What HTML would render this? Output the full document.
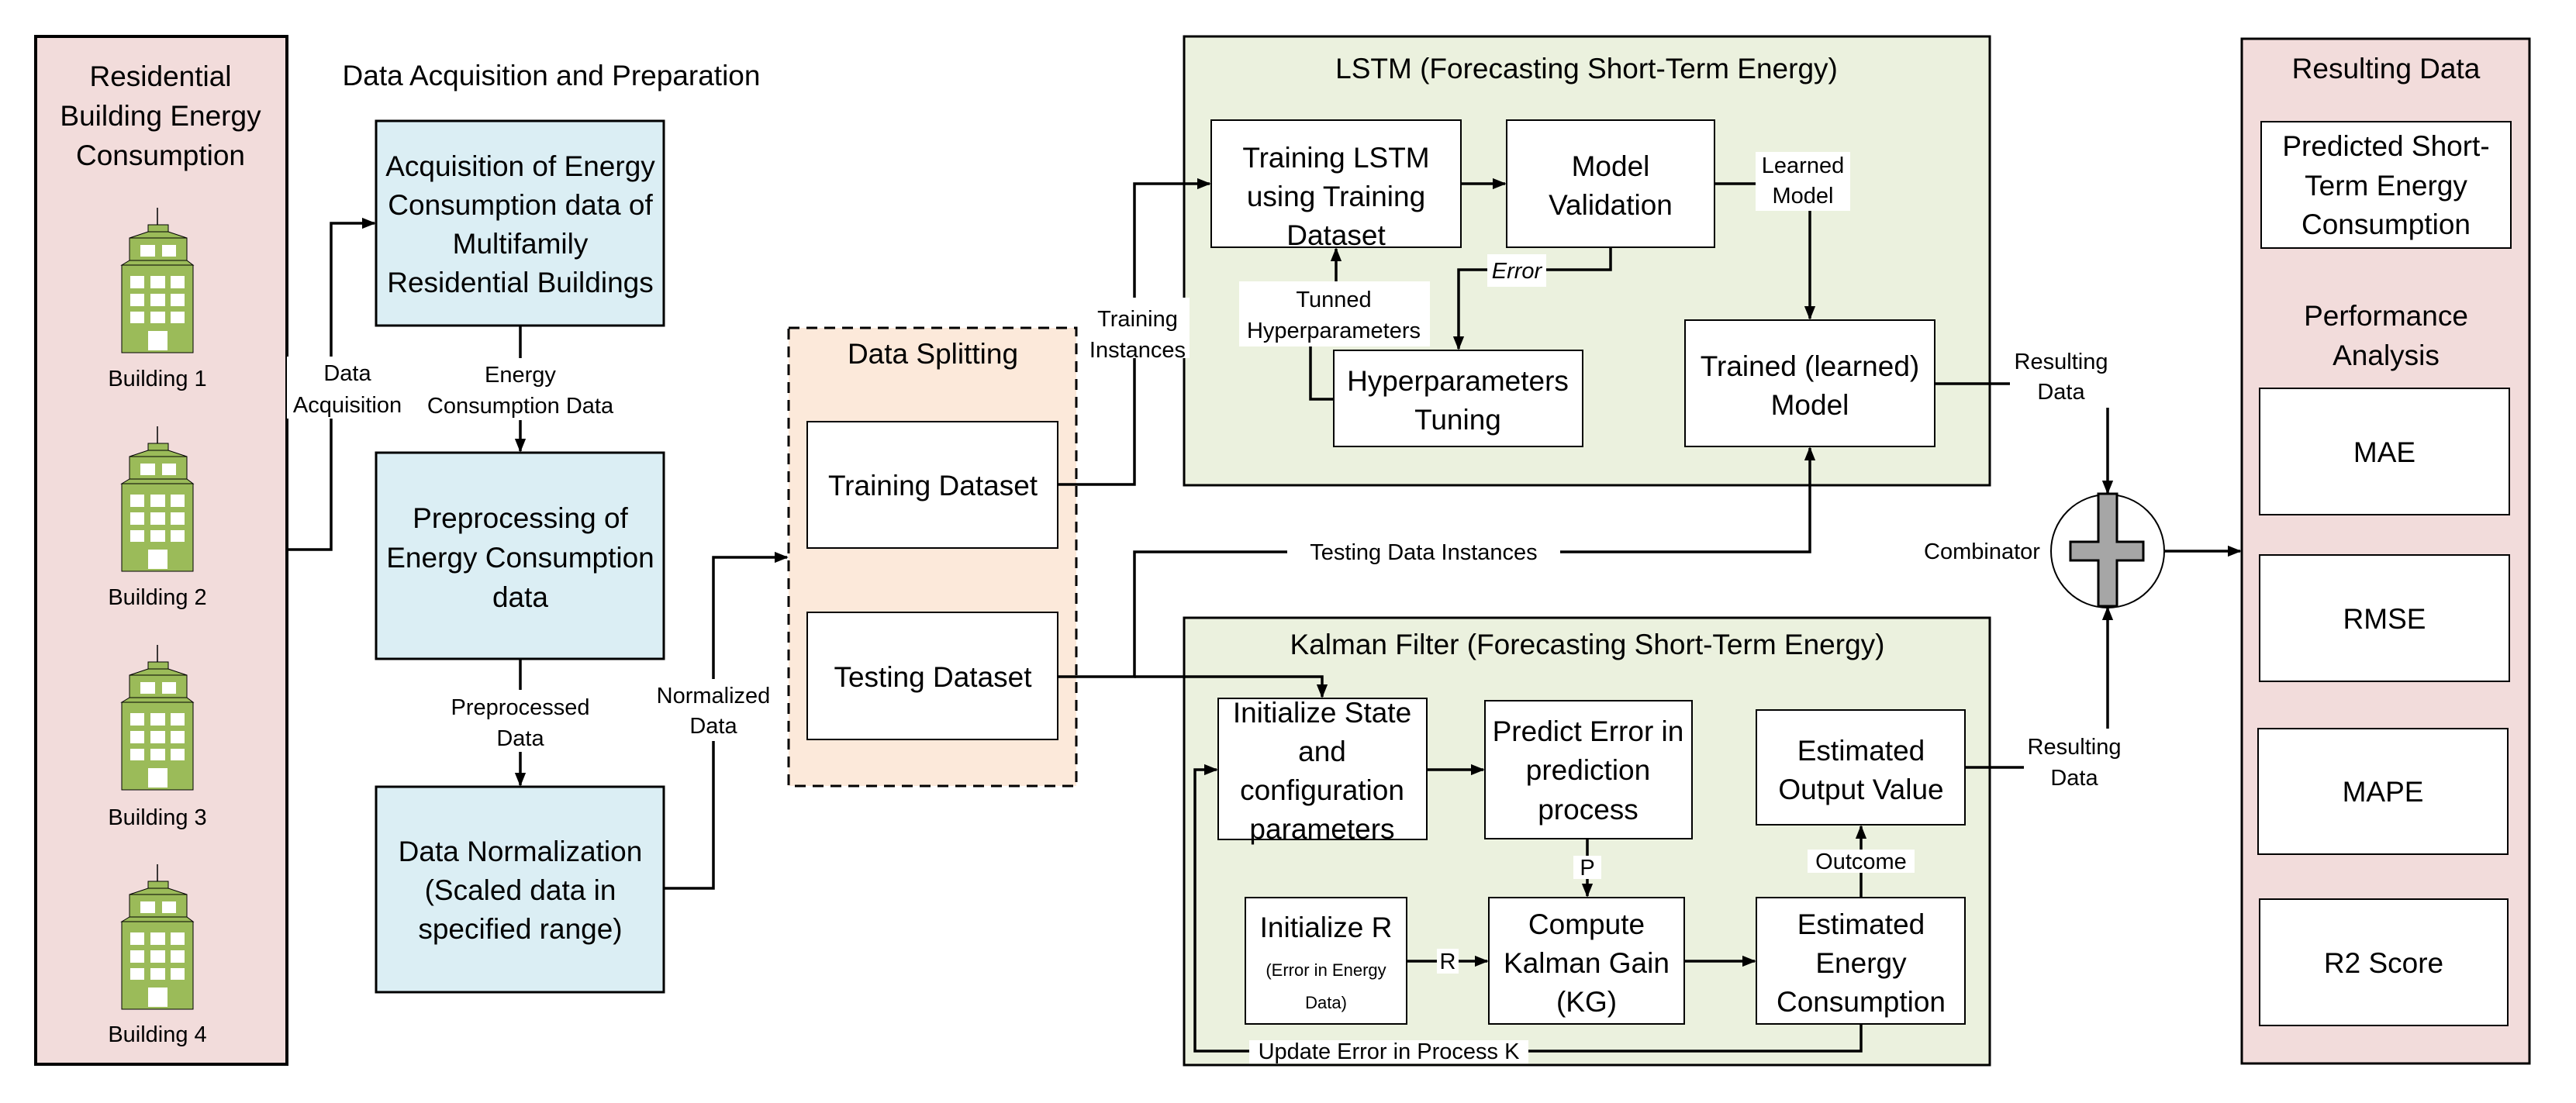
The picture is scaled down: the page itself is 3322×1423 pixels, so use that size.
<!DOCTYPE html>
<html><head><meta charset="utf-8"><style>
html,body{margin:0;padding:0;background:#fff}
svg{display:block}
text{font-family:"Liberation Sans",sans-serif;fill:#000}
.b{font-size:37px}
.s{font-size:29px}
</style></head><body>
<svg width="3322" height="1423" viewBox="0 0 3322 1423" xmlns="http://www.w3.org/2000/svg">
<defs>
<marker id="m" viewBox="0 0 10 10" refX="9" refY="5" markerWidth="18" markerHeight="18" markerUnits="userSpaceOnUse" orient="auto"><path d="M0,1 L10,5 L0,9 z" fill="#000"/></marker>
<g id="bld">
<line x1="203" y1="268" x2="203" y2="291" stroke="#000" stroke-width="1.5"/>
<rect x="191" y="290" width="26" height="9" fill="#9bbb59" stroke="#000" stroke-width="1"/>
<path d="M167,307 L191,299 L217,299 L241,307 Z" fill="#9bbb59" stroke="#000" stroke-width="1"/>
<rect x="167" y="307" width="74" height="29" fill="#9bbb59" stroke="#000" stroke-width="1"/>
<path d="M157,342 L167,336 L241,336 L249,342 Z" fill="#9bbb59" stroke="#000" stroke-width="1"/>
<rect x="157" y="342" width="92" height="113" fill="#9bbb59" stroke="#000" stroke-width="1"/>
<g fill="#fff">
<rect x="181" y="316" width="19" height="15"/><rect x="209" y="316" width="18" height="15"/>
<rect x="168" y="356" width="18" height="16"/><rect x="194" y="356" width="19" height="16"/><rect x="220" y="356" width="18" height="16"/>
<rect x="168" y="379" width="18" height="16"/><rect x="194" y="379" width="19" height="16"/><rect x="220" y="379" width="18" height="16"/>
<rect x="168" y="402" width="18" height="15"/><rect x="194" y="402" width="19" height="15"/><rect x="220" y="402" width="18" height="15"/>
<rect x="191" y="427" width="25" height="25"/>
</g>
</g>
</defs>

<rect x="46" y="47" width="324" height="1326" fill="#f2dcdb" stroke="#000" stroke-width="4"/>
<text class="b" x="207" y="111" text-anchor="middle">Residential</text>
<text class="b" x="207" y="162" text-anchor="middle">Building Energy</text>
<text class="b" x="207" y="213" text-anchor="middle">Consumption</text>
<use href="#bld"/>
<use href="#bld" y="282"/>
<use href="#bld" y="564"/>
<use href="#bld" y="847"/>
<text class="s" x="203" y="498" text-anchor="middle">Building 1</text>
<text class="s" x="203" y="780" text-anchor="middle">Building 2</text>
<text class="s" x="203" y="1064" text-anchor="middle">Building 3</text>
<text class="s" x="203" y="1344" text-anchor="middle">Building 4</text>

<text class="b" x="711" y="110" text-anchor="middle">Data Acquisition and Preparation</text>

<g fill="#dbeef4" stroke="#000" stroke-width="3">
<rect x="485" y="156" width="371" height="264"/>
<rect x="485" y="584" width="371" height="266"/>
<rect x="485" y="1015" width="371" height="265"/>
</g>
<text class="b" x="671" y="227" text-anchor="middle">Acquisition of Energy</text>
<text class="b" x="671" y="277" text-anchor="middle">Consumption data of</text>
<text class="b" x="671" y="327" text-anchor="middle">Multifamily</text>
<text class="b" x="671" y="377" text-anchor="middle">Residential Buildings</text>
<text class="b" x="671" y="681" text-anchor="middle">Preprocessing of</text>
<text class="b" x="671" y="732" text-anchor="middle">Energy Consumption</text>
<text class="b" x="671" y="783" text-anchor="middle">data</text>
<text class="b" x="671" y="1111" text-anchor="middle">Data Normalization</text>
<text class="b" x="671" y="1161" text-anchor="middle">(Scaled data in</text>
<text class="b" x="671" y="1211" text-anchor="middle">specified range)</text>

<g stroke="#000" stroke-width="3.5" fill="none">
<polyline points="370,709 427,709 427,288 483,288" marker-end="url(#m)"/>
<line x1="671" y1="420" x2="671" y2="582" marker-end="url(#m)"/>
<line x1="671" y1="850" x2="671" y2="1013" marker-end="url(#m)"/>
<polyline points="856,1146 920,1146 920,719 1015,719" marker-end="url(#m)"/>
</g>
<g fill="#fff">
<rect x="370" y="460" width="156" height="80"/>
<rect x="542" y="462" width="258" height="80"/>
<rect x="572" y="890" width="200" height="80"/>
<rect x="843" y="876" width="156" height="80"/>
</g>
<text class="s" x="448" y="491" text-anchor="middle">Data</text>
<text class="s" x="448" y="532" text-anchor="middle">Acquisition</text>
<text class="s" x="671" y="493" text-anchor="middle">Energy</text>
<text class="s" x="671" y="533" text-anchor="middle">Consumption Data</text>
<text class="s" x="671" y="922" text-anchor="middle">Preprocessed</text>
<text class="s" x="671" y="962" text-anchor="middle">Data</text>
<text class="s" x="920" y="907" text-anchor="middle">Normalized</text>
<text class="s" x="920" y="946" text-anchor="middle">Data</text>

<rect x="1017" y="423" width="371" height="591" fill="#fce9da" stroke="#000" stroke-width="3" stroke-dasharray="14,9"/>
<text class="b" x="1203" y="469" text-anchor="middle">Data Splitting</text>
<rect x="1041" y="544" width="323" height="163" fill="#fff" stroke="#000" stroke-width="2"/>
<rect x="1041" y="790" width="323" height="164" fill="#fff" stroke="#000" stroke-width="2"/>
<text class="b" x="1203" y="639" text-anchor="middle">Training Dataset</text>
<text class="b" x="1203" y="886" text-anchor="middle">Testing Dataset</text>

<rect x="1527" y="47" width="1039" height="579" fill="#ebf1de" stroke="#000" stroke-width="3"/>
<text class="b" x="2046" y="101" text-anchor="middle">LSTM (Forecasting Short-Term Energy)</text>
<rect x="1527" y="797" width="1039" height="577" fill="#ebf1de" stroke="#000" stroke-width="3"/>
<text class="b" x="2047" y="844" text-anchor="middle">Kalman Filter (Forecasting Short-Term Energy)</text>

<g fill="#fff" stroke="#000" stroke-width="2">
<rect x="1562" y="155" width="322" height="164"/>
<rect x="1943" y="155" width="268" height="164"/>
<rect x="1720" y="452" width="321" height="124"/>
<rect x="2173" y="413" width="322" height="163"/>
<rect x="1571" y="901" width="269" height="182"/>
<rect x="1915" y="904" width="267" height="178"/>
<rect x="1606" y="1158" width="208" height="163"/>
<rect x="1920" y="1158" width="252" height="163"/>
<rect x="2265" y="1158" width="269" height="163"/>
<rect x="2265" y="916" width="269" height="148"/>
</g>

<g stroke="#000" stroke-width="3.5" fill="none">
<polyline points="1364,625 1463,625 1463,237 1560,237" marker-end="url(#m)"/>
<line x1="1884" y1="237" x2="1941" y2="237" marker-end="url(#m)"/>
<polyline points="2077,319 2077,348 1881,348 1881,450" marker-end="url(#m)"/>
<polyline points="1720,515 1690,515 1690,440"/>
<line x1="1723" y1="367" x2="1723" y2="321" marker-end="url(#m)"/>
<polyline points="2211,237 2334,237 2334,411" marker-end="url(#m)"/>
<polyline points="1364,873 1463,873 1463,712 2334,712 2334,578" marker-end="url(#m)"/>
<polyline points="1463,873 1705,873 1705,899" marker-end="url(#m)"/>
<line x1="1840" y1="993" x2="1913" y2="993" marker-end="url(#m)"/>
<line x1="2047" y1="1082" x2="2047" y2="1156" marker-end="url(#m)"/>
<line x1="1814" y1="1240" x2="1918" y2="1240" marker-end="url(#m)"/>
<line x1="2172" y1="1240" x2="2263" y2="1240" marker-end="url(#m)"/>
<line x1="2400" y1="1158" x2="2400" y2="1066" marker-end="url(#m)"/>
<polyline points="2400,1321 2400,1356 1541,1356 1541,993 1569,993" marker-end="url(#m)"/>
<line x1="2495" y1="495" x2="2592" y2="495"/>
<line x1="2718" y1="526" x2="2718" y2="636" marker-end="url(#m)"/>
<line x1="2534" y1="990" x2="2610" y2="990"/>
<line x1="2718" y1="940" x2="2718" y2="784" marker-end="url(#m)"/>
<line x1="2791" y1="711" x2="2889" y2="711" marker-end="url(#m)"/>
</g>

<g fill="#fff">
<rect x="1400" y="384" width="134" height="78"/>
<rect x="1598" y="363" width="246" height="84"/>
<rect x="1918" y="328" width="76" height="42"/>
<rect x="2264" y="196" width="122" height="76"/>
<rect x="1660" y="698" width="352" height="30"/>
<rect x="2029" y="1104" width="36" height="30"/>
<rect x="1853" y="1224" width="28" height="32"/>
<rect x="2331" y="1096" width="138" height="30"/>
<rect x="1611" y="1342" width="360" height="30"/>
</g>
<text class="s" x="1467" y="421" text-anchor="middle">Training</text>
<text class="s" x="1467" y="461" text-anchor="middle">Instances</text>
<text class="s" x="1720" y="396" text-anchor="middle">Tunned</text>
<text class="s" x="1720" y="436" text-anchor="middle">Hyperparameters</text>
<text class="s" x="1956" y="359" text-anchor="middle" font-style="italic">Error</text>
<text class="s" x="2325" y="223" text-anchor="middle">Learned</text>
<text class="s" x="2325" y="262" text-anchor="middle">Model</text>
<text class="s" x="1836" y="722" text-anchor="middle">Testing Data Instances</text>
<text class="s" x="2047" y="1129" text-anchor="middle">P</text>
<text class="s" x="1867" y="1250" text-anchor="middle">R</text>
<text class="s" x="2400" y="1121" text-anchor="middle">Outcome</text>
<text class="s" x="1791" y="1366" text-anchor="middle">Update  Error in Process K</text>
<text class="s" x="2658" y="476" text-anchor="middle">Resulting</text>
<text class="s" x="2658" y="515" text-anchor="middle">Data</text>
<text class="s" x="2675" y="973" text-anchor="middle">Resulting</text>
<text class="s" x="2675" y="1013" text-anchor="middle">Data</text>
<text class="s" x="2556" y="721" text-anchor="middle">Combinator</text>

<text class="b" x="1723" y="216" text-anchor="middle">Training LSTM</text>
<text class="b" x="1723" y="266" text-anchor="middle">using Training</text>
<text class="b" x="1723" y="316" text-anchor="middle">Dataset</text>
<text class="b" x="2077" y="227" text-anchor="middle">Model</text>
<text class="b" x="2077" y="277" text-anchor="middle">Validation</text>
<text class="b" x="1880" y="504" text-anchor="middle">Hyperparameters</text>
<text class="b" x="1880" y="554" text-anchor="middle">Tuning</text>
<text class="b" x="2334" y="485" text-anchor="middle">Trained (learned)</text>
<text class="b" x="2334" y="535" text-anchor="middle">Model</text>
<text class="b" x="1705" y="932" text-anchor="middle">Initialize State</text>
<text class="b" x="1705" y="982" text-anchor="middle">and</text>
<text class="b" x="1705" y="1032" text-anchor="middle">configuration</text>
<text class="b" x="1705" y="1082" text-anchor="middle">parameters</text>
<text class="b" x="2048" y="956" text-anchor="middle">Predict Error in</text>
<text class="b" x="2048" y="1006" text-anchor="middle">prediction</text>
<text class="b" x="2048" y="1057" text-anchor="middle">process</text>
<text class="b" x="1710" y="1209" text-anchor="middle">Initialize R</text>
<text x="1710" y="1259" text-anchor="middle" font-size="22">(Error in Energy</text>
<text x="1710" y="1301" text-anchor="middle" font-size="22">Data)</text>
<text class="b" x="2046" y="1205" text-anchor="middle">Compute</text>
<text class="b" x="2046" y="1255" text-anchor="middle">Kalman Gain</text>
<text class="b" x="2046" y="1305" text-anchor="middle">(KG)</text>
<text class="b" x="2400" y="1205" text-anchor="middle">Estimated</text>
<text class="b" x="2400" y="1255" text-anchor="middle">Energy</text>
<text class="b" x="2400" y="1305" text-anchor="middle">Consumption</text>
<text class="b" x="2400" y="981" text-anchor="middle">Estimated</text>
<text class="b" x="2400" y="1031" text-anchor="middle">Output Value</text>

<ellipse cx="2718" cy="711" rx="73" ry="73" fill="#fff" stroke="#000" stroke-width="2"/>
<path d="M2706,637 H2730 V699 H2764 V723 H2730 V782 H2706 V723 H2670 V699 H2706 Z" fill="#a6a6a6" stroke="#000" stroke-width="3"/>

<rect x="2891" y="50" width="371" height="1322" fill="#f2dcdb" stroke="#000" stroke-width="3"/>
<text class="b" x="3077" y="101" text-anchor="middle">Resulting Data</text>
<g fill="#fff" stroke="#000" stroke-width="2">
<rect x="2916" y="157" width="322" height="163"/>
<rect x="2914" y="501" width="322" height="163"/>
<rect x="2914" y="716" width="322" height="163"/>
<rect x="2912" y="940" width="322" height="162"/>
<rect x="2914" y="1160" width="320" height="163"/>
</g>
<text class="b" x="3077" y="201" text-anchor="middle">Predicted Short-</text>
<text class="b" x="3077" y="252" text-anchor="middle">Term Energy</text>
<text class="b" x="3077" y="302" text-anchor="middle">Consumption</text>
<text class="b" x="3077" y="420" text-anchor="middle">Performance</text>
<text class="b" x="3077" y="471" text-anchor="middle">Analysis</text>
<text class="b" x="3075" y="596" text-anchor="middle">MAE</text>
<text class="b" x="3075" y="811" text-anchor="middle">RMSE</text>
<text class="b" x="3073" y="1034" text-anchor="middle">MAPE</text>
<text class="b" x="3074" y="1255" text-anchor="middle">R2 Score</text>
</svg>
</body></html>
